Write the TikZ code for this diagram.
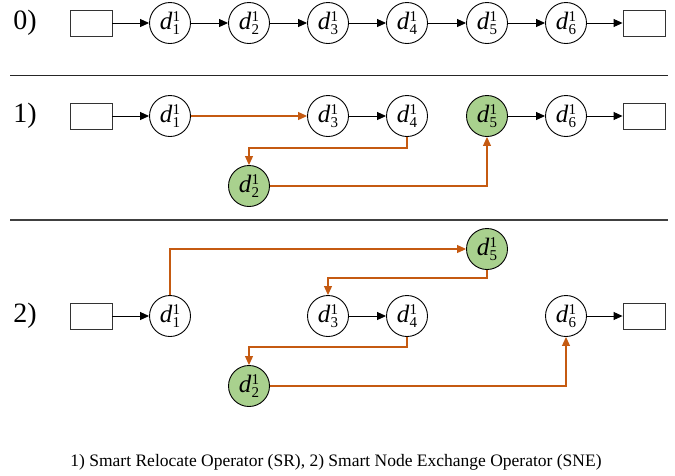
\documentclass[tikz,border=0pt]{standalone}
\usepackage{fontspec}
\setmainfont{Liberation Serif}
\usetikzlibrary{arrows.meta}
\definecolor{gfill}{HTML}{A9D18E}
\definecolor{oline}{HTML}{C55A11}
\newcommand\dlab[1]{{\fontsize{25}{25}\selectfont\itshape d\/}\kern0.3pt\raisebox{-5pt}{\fontsize{15}{14}\selectfont\shortstack[l]{1\\#1}}}
\tikzset{
  dnode/.style={circle,draw=black,line width=0.9pt,minimum size=41pt,inner sep=0pt,fill=white},
  gnode/.style={dnode,fill=gfill},
  endbox/.style={rectangle,draw=black!80,line width=0.9pt,minimum width=42pt,minimum height=26pt,inner sep=0pt},
  barrow/.style={draw=black,line width=0.9pt,-{Triangle[length=9pt,width=8pt]}},
  oarrow/.style={draw=oline,line width=1.1pt,-{Triangle[length=9pt,width=8pt]}},
  rowlab/.style={font=\fontsize{28}{28}\selectfont,inner sep=0pt},
  sep/.style={draw=black!85,line width=1pt}
}
\begin{document}
\begin{tikzpicture}[x=1pt,y=-1pt]
\useasboundingbox (0,0) rectangle (675,475);
% row 0
\node[rowlab] (l0) at (25,23) {0)};
\node[endbox] (a0) at (91,23) {};
\node[dnode] (a1) at (170,23) {\dlab{1}};
\node[dnode] (a2) at (249,23) {\dlab{2}};
\node[dnode] (a3) at (328,23) {\dlab{3}};
\node[dnode] (a4) at (407,23) {\dlab{4}};
\node[dnode] (a5) at (487,23) {\dlab{5}};
\node[dnode] (a6) at (566,23) {\dlab{6}};
\node[endbox] (a7) at (644,23) {};
\draw[barrow] (a0) -- (a1);
\draw[barrow] (a1) -- (a2);
\draw[barrow] (a2) -- (a3);
\draw[barrow] (a3) -- (a4);
\draw[barrow] (a4) -- (a5);
\draw[barrow] (a5) -- (a6);
\draw[barrow] (a6) -- (a7);
% separator 1
\coordinate (s1a) at (10,75);
\coordinate (s1b) at (668,75);
\draw[sep] (s1a) -- (s1b);
% row 1
\node[rowlab] (l1) at (25,116) {1)};
\node[endbox] (b0) at (91,116) {};
\node[dnode] (b1) at (170,116) {\dlab{1}};
\node[gnode] (b2) at (249,186) {\dlab{2}};
\node[dnode] (b3) at (328,116) {\dlab{3}};
\node[dnode] (b4) at (407,116) {\dlab{4}};
\node[gnode] (b5) at (487,116) {\dlab{5}};
\node[dnode] (b6) at (566,116) {\dlab{6}};
\node[endbox] (b7) at (644,116) {};
\draw[barrow] (b0) -- (b1);
\draw[oarrow] (b1) -- (b3);
\draw[barrow] (b3) -- (b4);
\draw[oarrow] (b4.south) -- ++(0,11) -| (b2.north);
\draw[oarrow] (b2.east) -| (b5.south);
\draw[barrow] (b5) -- (b6);
\draw[barrow] (b6) -- (b7);
% separator 2
\coordinate (s2a) at (10,220);
\coordinate (s2b) at (668,220);
\draw[sep,draw=black!75,line width=1.4pt] (s2a) -- (s2b);
% row 2
\node[rowlab] (l2) at (25,316) {2)};
\node[endbox] (c0) at (91,316) {};
\node[dnode] (c1) at (170,316) {\dlab{1}};
\node[gnode] (c2) at (249,386) {\dlab{2}};
\node[dnode] (c3) at (328,316) {\dlab{3}};
\node[dnode] (c4) at (407,316) {\dlab{4}};
\node[gnode] (c5) at (487,249) {\dlab{5}};
\node[dnode] (c6) at (566,316) {\dlab{6}};
\node[endbox] (c7) at (644,316) {};
\draw[barrow] (c0) -- (c1);
\draw[oarrow] (c1.north) |- (c5.west);
\draw[oarrow] (c5.south) -- ++(0,8) -| (c3.north);
\draw[barrow] (c3) -- (c4);
\draw[oarrow] (c4.south) -- ++(0,10) -| (c2.north);
\draw[oarrow] (c2.east) -| (c6.south);
\draw[barrow] (c6) -- (c7);
% caption
\node[font=\fontsize{17.5}{18}\selectfont,inner sep=0pt] (cap) at (336,462) {1) Smart Relocate Operator (SR), 2) Smart Node Exchange Operator (SNE)};
\end{tikzpicture}
\end{document}
